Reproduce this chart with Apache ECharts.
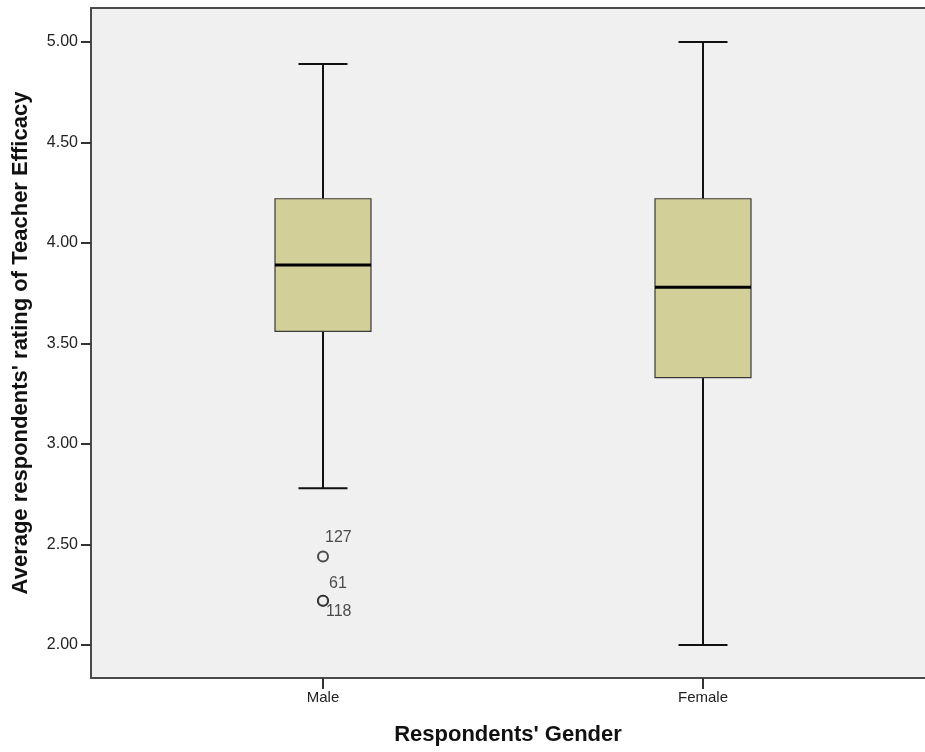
<!DOCTYPE html>
<html>
<head>
<meta charset="utf-8">
<script src="https://cdn.jsdelivr.net/npm/echarts@6/dist/echarts.min.js"></script>
<style>
  html, body { margin: 0; padding: 0; background: #ffffff; }
  #chart { width: 925px; height: 752px; }
</style>
</head>
<body>
<div id="chart"></div>
<script>
// Groups on the horizontal axis (positions 1 and 2)
const categories = ['Male', 'Female'];
// Five-number summaries: [low whisker, Q1, median, Q3, high whisker]
const lowWhisker = [2.78, 2.00];
const q1 = [3.56, 3.33];
const medians = [3.89, 3.78];
const q3 = [4.22, 4.22];
const highWhisker = [4.89, 5.00];
// Outlying cases: group index, value, case number
const outlierGroup = [0, 0, 0];
const outlierValues = [2.44, 2.22, 2.22];
const outlierIds = ['127', '61', '118'];
// Value-axis tick labels
const yTicks = [2.0, 2.5, 3.0, 3.5, 4.0, 4.5, 5.0];

const FONT = 'Liberation Sans, Arial, sans-serif';
const FRAME = { color: '#4a4a4a', width: 2 };

const boxData = categories.map((c, i) => [i + 1, lowWhisker[i], q1[i], medians[i], q3[i], highWhisker[i]]);

// label placement for each outlier case number
const outlierLabelPos = [[8, -21], [12, -19], [9, 9]];
const outlierData = outlierValues.map((v, i) => ({
  value: [outlierGroup[i] + 1, v, outlierIds[i]],
  label: { position: outlierLabelPos[i] }
}));

function renderBox(params, api) {
  const x = api.value(0);
  const pLow = api.coord([x, api.value(1)]);
  const pQ1 = api.coord([x, api.value(2)]);
  const pMed = api.coord([x, api.value(3)]);
  const pQ3 = api.coord([x, api.value(4)]);
  const pHigh = api.coord([x, api.value(5)]);
  const cx = pMed[0];
  const halfBox = 48;
  const halfCap = 24.5;
  const line = { stroke: '#111', lineWidth: 2 };
  return {
    type: 'group',
    children: [
      { type: 'line', shape: { x1: cx, y1: pHigh[1], x2: cx, y2: pQ3[1] }, style: line },
      { type: 'line', shape: { x1: cx, y1: pQ1[1], x2: cx, y2: pLow[1] }, style: line },
      { type: 'line', shape: { x1: cx - halfCap, y1: pHigh[1], x2: cx + halfCap, y2: pHigh[1] }, style: line },
      { type: 'line', shape: { x1: cx - halfCap, y1: pLow[1], x2: cx + halfCap, y2: pLow[1] }, style: line },
      {
        type: 'rect',
        shape: { x: cx - halfBox, y: pQ3[1], width: halfBox * 2, height: pQ1[1] - pQ3[1] },
        style: { fill: '#d3cf98', stroke: '#3a3a3a', lineWidth: 1.2 }
      },
      { type: 'line', shape: { x1: cx - halfBox, y1: pMed[1], x2: cx + halfBox, y2: pMed[1] }, style: { stroke: '#000', lineWidth: 3 } }
    ]
  };
}

const chart = echarts.init(document.getElementById('chart'), null, { renderer: 'canvas' });
chart.setOption({
  animation: false,
  backgroundColor: '#ffffff',
  grid: {
    left: 91, top: 8, right: 0, bottom: 74,
    outerBoundsMode: 'none',
    containLabel: false,
    show: true, backgroundColor: '#f0f0f0', borderWidth: 0
  },
  xAxis: [
    {
      type: 'value',
      position: 'bottom',
      min: 0.3895, max: 2.5842,
      splitLine: { show: false },
      axisLine: { show: true, onZero: false, lineStyle: FRAME },
      axisTick: { show: true, customValues: [1, 2], length: 11, lineStyle: { color: '#333', width: 2 } },
      axisLabel: {
        customValues: [1, 2],
        formatter: v => categories[Math.round(v) - 1] || '',
        color: '#222', fontFamily: FONT, fontSize: 15, margin: 12
      },
      name: "Respondents' Gender",
      nameLocation: 'middle',
      nameGap: 46,
      nameTextStyle: { fontFamily: FONT, fontSize: 22, fontWeight: 'bold', color: '#111' }
    },
    {
      // top edge of the plot frame
      type: 'value',
      position: 'top',
      min: 0.3895, max: 2.5842,
      splitLine: { show: false },
      axisLine: { show: true, onZero: false, lineStyle: FRAME },
      axisTick: { show: false },
      axisLabel: { show: false }
    }
  ],
  yAxis: {
    type: 'value',
    min: 1.836, max: 5.169,
    splitLine: { show: false },
    axisLine: { show: true, onZero: false, lineStyle: FRAME },
    axisTick: { show: true, customValues: yTicks, length: 10, lineStyle: { color: '#333', width: 2 } },
    axisLabel: {
      customValues: yTicks,
      formatter: v => v.toFixed(2),
      color: '#222', fontFamily: FONT, fontSize: 16, margin: 13
    },
    name: "Average respondents' rating of Teacher Efficacy",
    nameLocation: 'middle',
    nameGap: 59,
    nameTextStyle: { fontFamily: FONT, fontSize: 22, fontWeight: 'bold', color: '#111' }
  },
  series: [
    {
      type: 'custom',
      renderItem: renderBox,
      encode: { x: 0, y: [1, 2, 3, 4, 5] },
      data: boxData,
      clip: false
    },
    {
      type: 'scatter',
      symbol: 'circle',
      symbolSize: 10,
      itemStyle: { color: '#f0f0f0', borderColor: '#222', borderWidth: 2 },
      label: {
        show: true,
        formatter: p => p.value[2],
        color: '#222', fontFamily: FONT, fontSize: 16,
        align: 'left', verticalAlign: 'top'
      },
      data: outlierData
    }
  ]
});
</script>
</body>
</html>
